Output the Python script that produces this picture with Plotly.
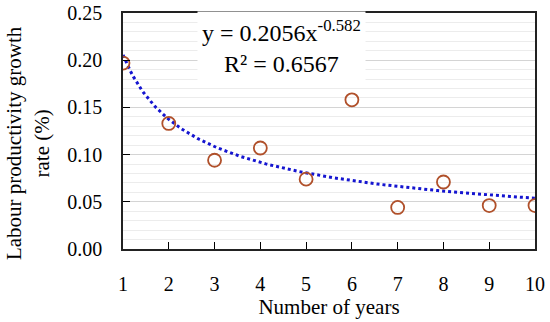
import numpy as np
import plotly.graph_objects as go

years = [1, 2, 3, 4, 5, 6, 7, 8, 9, 10]
growth_rate = [0.197, 0.133, 0.094, 0.107, 0.074, 0.158, 0.044, 0.071, 0.046, 0.046]

# power trendline coefficients as printed on the chart
trend_a = 0.2056
trend_b = -0.582
r_squared = 0.6567

y_ticks = [0.00, 0.05, 0.10, 0.15, 0.20, 0.25]
x_ticks = years

xt = np.linspace(1, 10, 200)
yt = trend_a * xt ** trend_b

FONT = "Liberation Serif, Times New Roman, serif"

fig = go.Figure()
fig.add_trace(go.Scatter(
    x=xt, y=yt, mode="lines",
    line=dict(color="#1515d0", width=3, dash="dot"),
    hoverinfo="skip", showlegend=False))
fig.add_trace(go.Scatter(
    x=years, y=growth_rate, mode="markers",
    marker=dict(symbol="circle-open", size=13, color="#b0502a", line=dict(width=1.8, color="#b0502a")),
    showlegend=False))

# trendline equation box
fig.add_annotation(
    x=0.385, y=0.86, xref="paper", yref="paper", xanchor="center", yanchor="middle",
    text=f"y = {trend_a}x<sup>{trend_b}</sup><br>R² = {r_squared}",
    showarrow=False, align="center", bgcolor="white", borderpad=4,
    font=dict(family=FONT, size=24, color="black"))

# y-axis title
fig.add_annotation(
    x=-0.23, y=0.45, xref="paper", yref="paper", xanchor="center", yanchor="middle",
    text="Labour productivity growth<br>rate (%)", textangle=-90,
    showarrow=False, align="center",
    font=dict(family=FONT, size=21, color="black"))

fig.update_layout(
    width=550, height=322,
    margin=dict(l=123, r=15, t=13, b=73),
    paper_bgcolor="white", plot_bgcolor="white",
    font=dict(family=FONT, size=20, color="black"),
    xaxis=dict(
        range=[1, 10], tickvals=x_ticks, ticks="inside", ticklen=7, tickcolor="black",
        showline=True, linecolor="#222", linewidth=1.5, mirror=True, automargin=False,
        showgrid=False, zeroline=False, ticklabelstandoff=16, ticklabeloverflow="allow",
        title=dict(text="Number of years", font=dict(size=21), standoff=6)),
    yaxis=dict(
        range=[0, 0.25], tickvals=y_ticks, tickformat=".2f", ticks="inside", ticklen=7,
        tickcolor="black", showline=True, linecolor="#222", linewidth=1.5, mirror=True,
        automargin=False, ticklabeloverflow="allow",
        showgrid=True, gridcolor="#d4d4d4", gridwidth=1, zeroline=False,
        minor=dict(dtick=0.01, showgrid=True, gridcolor="#ececec", gridwidth=1, ticks=""),
        ticklabelstandoff=15),
)

fig.write_html("out.html", config={"displayModeBar": False},
               post_script="document.body.style.margin='0';")
